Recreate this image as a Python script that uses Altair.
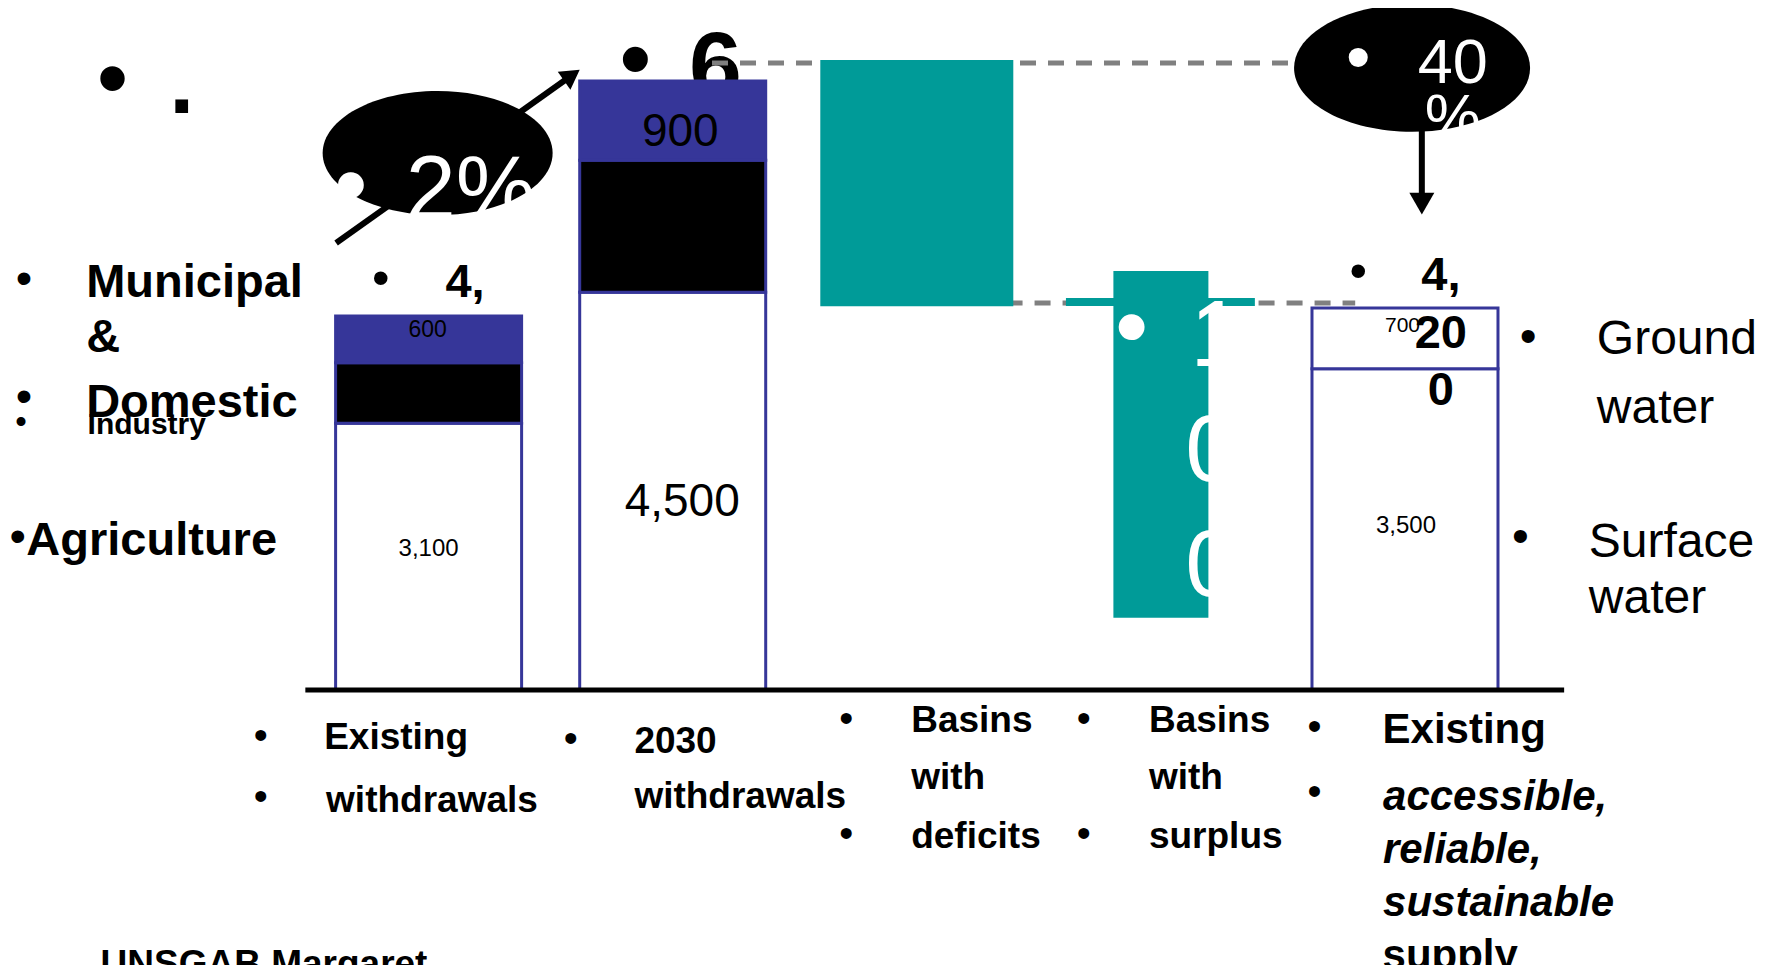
import altair as alt
import pandas as pd

FONT = "Liberation Sans"
NAVY = "#363699"
TEAL = "#009B98"
GREY = "#808080"

# ---------------- data ----------------
categories = ["Existing withdrawals", "2030 withdrawals", "Basins with deficits",
              "Basins with surplus", "Existing supply"]
withdrawal_segments = ["Agriculture", "Industry", "Municipal & Domestic"]
existing_withdrawals = [3030, 690, 530]
withdrawals_2030 = [4520, 1500, 900]
supply_segments = ["Surface water", "Ground water"]
existing_supply = [3650, 690]
deficit_span = [4360, 7160]
surplus_span = [820, 4760]

# connector levels (dashed lines of the waterfall)
top_level = 7125
low_level = 4398
surplus_connector = 4409

# ---------------- scales ----------------
S0, S1 = -1.702648, 5.417515          # category slot axis
VMIN, VMAX = -3125.0, 7750.0           # value axis
XS = alt.Scale(domain=[S0, S1], nice=False, zero=False)
YS = alt.Scale(domain=[VMIN, VMAX], nice=False, zero=False)


def X(f):
    return alt.X(f, type="quantitative", scale=XS, axis=None)


def Y(f):
    return alt.Y(f, type="quantitative", scale=YS, axis=None)


# stacked bars
rows = []
for idx, vals, segs in [(0, existing_withdrawals, withdrawal_segments),
                        (1, withdrawals_2030, withdrawal_segments),
                        (4, existing_supply, supply_segments)]:
    start = 0
    for seg, val in zip(segs, vals):
        rows.append({"slot": idx, "category": categories[idx], "segment": seg,
                     "start": start, "end": start + val})
        start += val
stack_df = pd.DataFrame(rows)

seg_domain = withdrawal_segments + supply_segments
seg_range = ["white", "black", NAVY, "white", "white"]

stack = alt.Chart(stack_df).mark_bar(width=186, stroke=NAVY, strokeWidth=3).encode(
    x=X("slot"), y=Y("start"), y2="end",
    fill=alt.Fill("segment:N", scale=alt.Scale(domain=seg_domain, range=seg_range), legend=None),
)

deficit = alt.Chart(pd.DataFrame({"slot": [2], "lo": [deficit_span[0]], "hi": [deficit_span[1]]})).mark_bar(
    width=193, color=TEAL).encode(x=X("slot"), y=Y("lo"), y2="hi")

surplus = alt.Chart(pd.DataFrame({"slot": [3], "lo": [surplus_span[0]], "hi": [surplus_span[1]]})).mark_bar(
    width=95, color=TEAL).encode(x=X("slot"), y=Y("lo"), y2="hi")

dashed = alt.Chart(pd.DataFrame({
    "a": [1.161, 2.253], "b": [3.560, 3.796], "v": [top_level, low_level]})).mark_rule(
    color=GREY, strokeWidth=5, strokeDash=[16, 12]).encode(x=X("a"), x2="b", y=Y("v"))

teal_link = alt.Chart(pd.DataFrame({"a": [2.611], "b": [3.385], "v": [surplus_connector]})).mark_rule(
    color=TEAL, strokeWidth=8).encode(x=X("a"), x2="b", y=Y("v"))

baseline = alt.Chart(pd.DataFrame({"a": [-0.505], "b": [4.652], "v": [0]})).mark_rule(
    color="black", strokeWidth=5).encode(x=X("a"), x2="b", y=Y("v"))

# arrows
arrow_lines = alt.Chart(pd.DataFrame({
    "s": [-0.379, 4.069], "v": [5080, 7023], "s2": [0.587, 4.069], "v2": [6985, 5527]})).mark_rule(
    color="black", strokeWidth=6).encode(x=X("s"), y=Y("v"), x2="s2", y2="v2")
head_up = alt.Chart(pd.DataFrame({"s": [0.587], "v": [6985]})).mark_point(
    shape="triangle-up", angle=55, size=484, filled=True, opacity=1, color="black", strokeWidth=0
).encode(x=X("s"), y=Y("v"))
head_down = alt.Chart(pd.DataFrame({"s": [4.069], "v": [5527]})).mark_point(
    shape="triangle-down", size=625, filled=True, opacity=1, color="black", strokeWidth=0
).encode(x=X("s"), y=Y("v"))

ELLIPSE = "M-1,0A1,0.54,0,1,1,1,0A1,0.54,0,1,1,-1,0Z"
ell_left = alt.Chart(pd.DataFrame({"s": [0.037], "v": [6102]})).mark_point(
    shape=ELLIPSE, size=52900, filled=True, opacity=1, color="black", strokeWidth=0
).encode(x=X("s"), y=Y("v"))
ell_right = alt.Chart(pd.DataFrame({"s": [4.029], "v": [7068]})).mark_point(
    shape=ELLIPSE, size=55696, filled=True, opacity=1, color="black", strokeWidth=0
).encode(x=X("s"), y=Y("v"))


def texts(items, size, color="black", weight="normal", style="normal", align="left", baseline="alphabetic"):
    df = pd.DataFrame(items, columns=["label", "s", "v"])
    return alt.Chart(df).mark_text(
        font=FONT, fontSize=size, color=color, fontWeight=weight, fontStyle=style,
        align=align, baseline=baseline).encode(x=X("s"), y=Y("v"), text="label:N")


B = "\u2022"


def bullets(items, size, color="black"):
    return texts([(B, s, v) for s, v in items], size, color=color, align="center", baseline="middle")


behind = [
    bullets([(0.847, 7136)], 92),
    texts([("6", 1.067, 6727)], 95, weight="bold"),
]

labels = [
    bullets([(-1.295, 6909)], 90),
    texts([(".", -1.063, 6557)], 90, weight="bold"),
    bullets([(-0.196, 4659), (3.809, 4739)], 50),
    bullets([(-1.658, 4659), (-1.658, 3318), (-1.683, 1727)], 47),
    bullets([(-1.670, 3034)], 33),
    bullets([(-0.688, -534), (-0.688, -1227), (0.582, -568), (1.711, -341), (1.711, -1648),
             (2.684, -341), (2.684, -1648), (3.629, -432), (3.629, -1170)], 40),
    bullets([(4.505, 4000), (4.473, 1727)], 48),
    texts([("4,", 0.069, 4466)], 47, weight="bold"),
    texts([("4,", 4.147, 4545), ("20", 4.147, 3886), ("0", 4.147, 3239)], 47, weight="bold", align="center"),
    texts([("700", 3.918, 4068)], 21),
    texts([("600", -0.004, 4011)], 23, align="center"),
    texts([("900", 1.031, 6182), ("4,500", 1.039, 1977)], 46, align="center"),
    texts([("3,100", 0.0, 1523), ("3,500", 4.004, 1784)], 24, align="center"),
    texts([("Municipal", -1.403, 4466), ("&", -1.403, 3841), ("Domestic", -1.403, 3102),
           ("Agriculture", -1.648, 1534)], 47, weight="bold"),
    texts([("Industry", -1.397, 2909)], 30, weight="bold"),
    texts([("Existing", -0.428, -670), ("withdrawals", -0.420, -1386), ("2030", 0.843, -716),
           ("withdrawals", 0.843, -1341), ("Basins", 1.977, -477), ("with", 1.977, -1125),
           ("deficits", 1.977, -1795), ("Basins", 2.951, -477), ("with", 2.951, -1125),
           ("surplus", 2.951, -1795), ("UNSGAB Margaret", -1.344, -3250)], 37, weight="bold"),
    texts([("Existing", 3.908, -602), ("supply", 3.908, -3170)], 42, weight="bold"),
    texts([("accessible,", 3.910, -1364), ("reliable,", 3.910, -1966), ("sustainable", 3.910, -2568)],
          42, weight="bold", style="italic"),
    texts([("Ground", 4.786, 3818), ("water", 4.786, 3034), ("Surface", 4.753, 1511), ("water", 4.753, 875)], 48),
]

white_text = [
    bullets([(-0.318, 5705), (2.880, 4091)], 95, color="white"),
    bullets([(3.809, 7159)], 70, color="white"),
    texts([("2%", -0.094, 5352)], 90, color="white"),
    texts([("40", 4.196, 6898), ("%", 4.196, 6273)], 63, color="white", align="center"),
    texts([("1", 3.120, 3682), ("0", 3.100, 2375), ("0", 3.100, 1068)], 95, color="white"),
]

chart = alt.layer(
    *behind, stack, dashed, deficit, teal_link, surplus, baseline,
    arrow_lines, head_up, head_down, ell_left, ell_right,
    *labels, *white_text,
).properties(
    width=1748, height=957, autosize="none", padding=0, background="white"
).configure_view(stroke=None)

chart.save("out.html", embed_options={"renderer": "svg", "actions": False})
